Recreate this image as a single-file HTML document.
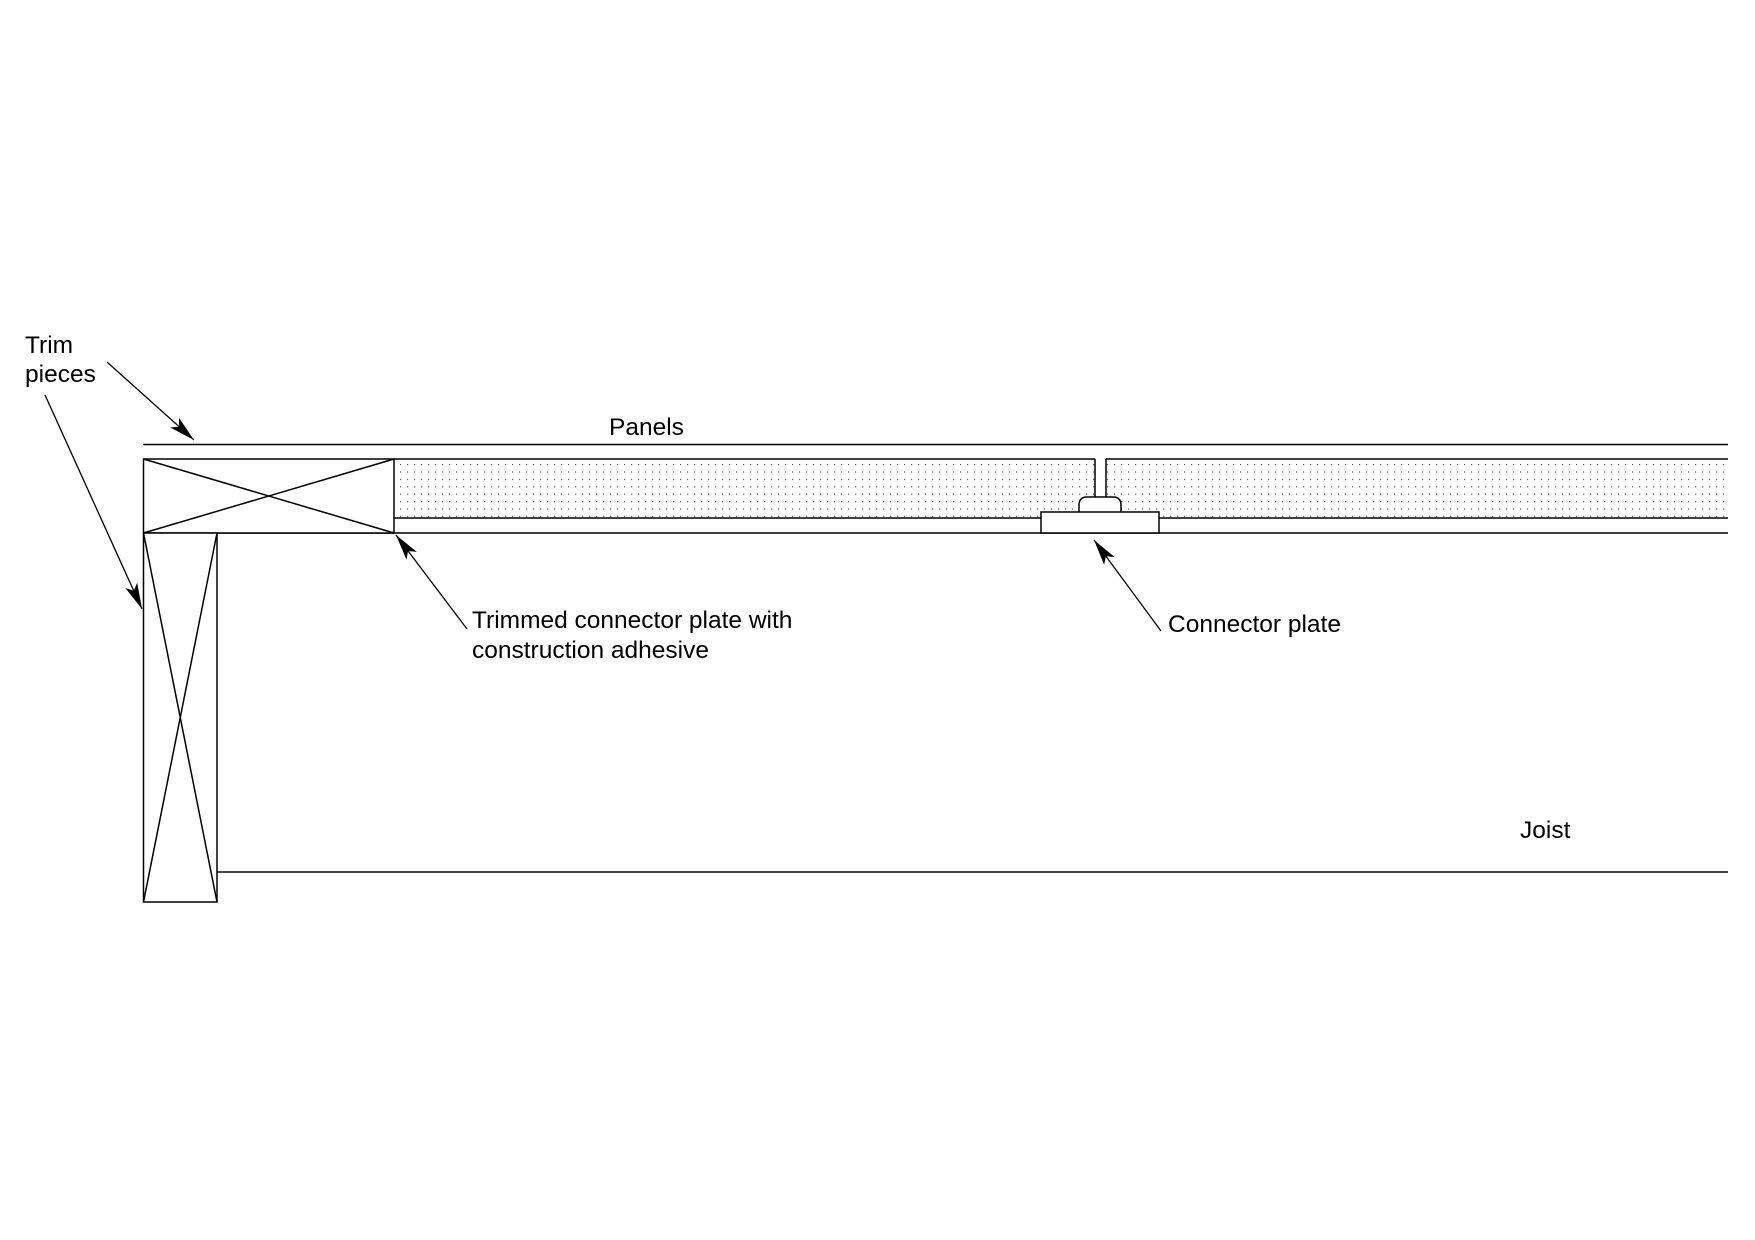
<!DOCTYPE html>
<html><head><style>html,body{margin:0;padding:0;background:#fff}svg{display:block}</style></head>
<body>
<svg width="1755" height="1240" viewBox="0 0 1755 1240" xmlns="http://www.w3.org/2000/svg">
<defs>
<pattern id="dots" x="398" y="462" width="7" height="7.4" patternUnits="userSpaceOnUse">
<rect x="2" y="2" width="1.2" height="1.2" fill="#555"/>
</pattern>
<marker id="ah" viewBox="0 0 26 13" refX="26" refY="6.5" markerWidth="26" markerHeight="13" markerUnits="userSpaceOnUse" orient="auto">
<path d="M0,0 L26,6.5 L0,13 L6,6.5 Z" fill="#000"/>
</marker>
</defs>
<g stroke="#000" stroke-width="1.5" fill="none">
<line x1="143" y1="444.5" x2="1728" y2="444.5"/>
<rect x="394" y="459" width="701" height="59" fill="url(#dots)" stroke="none"/>
<rect x="1106" y="459" width="622" height="59" fill="url(#dots)" stroke="none"/>
<line x1="394" y1="459" x2="1095" y2="459"/>
<line x1="1106" y1="459" x2="1728" y2="459"/>
<line x1="1095" y1="459" x2="1095" y2="497"/>
<line x1="1106" y1="459" x2="1106" y2="497"/>
<line x1="394" y1="518" x2="1728" y2="518"/>
<line x1="143" y1="533" x2="1728" y2="533"/>
<path d="M1079,512 L1079,505 Q1079,497 1087,497 L1113,497 Q1121,497 1121,505 L1121,512" fill="#fff"/>
<rect x="1041" y="512" width="118" height="21" fill="#fff"/>
<rect x="143.5" y="459" width="250.5" height="74" fill="#fff"/>
<line x1="143.5" y1="459" x2="394" y2="533"/>
<line x1="143.5" y1="533" x2="394" y2="459"/>
<rect x="143.5" y="533" width="73.5" height="369" fill="#fff"/>
<line x1="143.5" y1="533" x2="217" y2="902"/>
<line x1="217" y1="533" x2="143.5" y2="902"/>
<line x1="217" y1="872" x2="1728" y2="872"/>
</g>
<g stroke="#000" stroke-width="1.3">
<line x1="107" y1="362" x2="194" y2="440" marker-end="url(#ah)"/>
<line x1="45" y1="395" x2="142" y2="609" marker-end="url(#ah)"/>
<line x1="467" y1="629" x2="396" y2="535" marker-end="url(#ah)"/>
<line x1="1161" y1="631" x2="1094" y2="540" marker-end="url(#ah)"/>
</g>
<g font-family="Liberation Sans, Arial, sans-serif" font-size="24.5" fill="#000">
<text x="25" y="353">Trim</text>
<text x="25" y="382">pieces</text>
<text x="609" y="435">Panels</text>
<text x="472" y="628">Trimmed connector plate with</text>
<text x="472" y="658">construction adhesive</text>
<text x="1168" y="632">Connector plate</text>
<text x="1520" y="838">Joist</text>
</g>
</svg>
</body></html>
